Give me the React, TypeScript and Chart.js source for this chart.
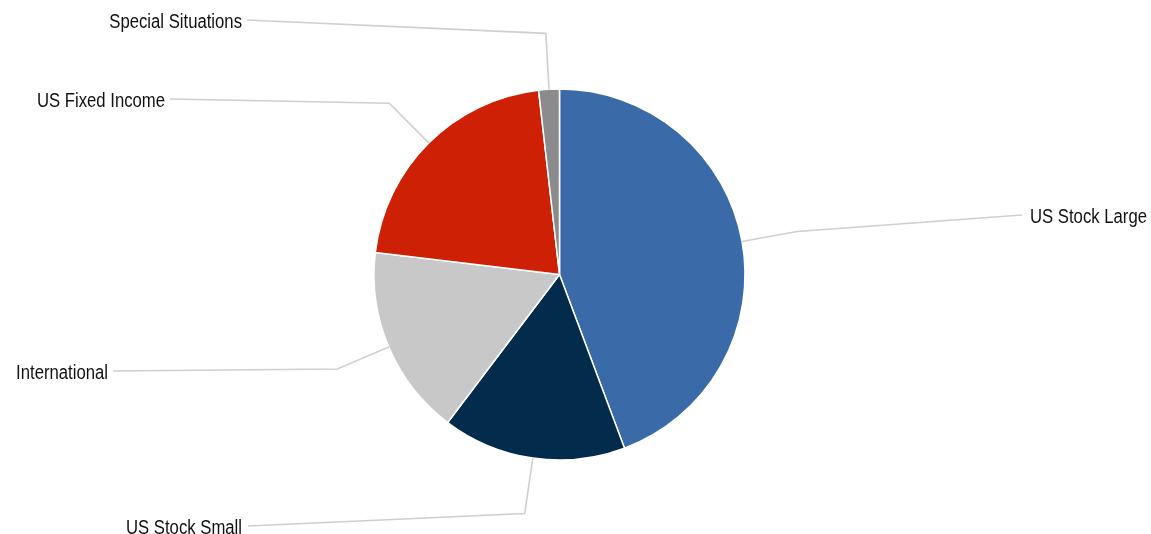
import React, { useEffect, useRef } from "react";
import { Chart, registerables } from "chart.js";

Chart.register(...registerables);

// ---- data ----
const categories = [
  "US Stock Large",
  "US Stock Small",
  "International",
  "US Fixed Income",
  "Special Situations",
];
const values = [44.3, 16.0, 16.6, 21.3, 1.8];
const colors = ["#3A6AA7", "#032B4C", "#C8C8C8", "#CD2004", "#8B8A8C"];

// ---- label layout (text anchor and leader end), same order as categories ----
const labelSide = ["right", "left", "left", "left", "left"];
const labelX = [1030, 242, 108, 165, 242];
const labelY = [215, 526, 371, 99, 20];
const lineEndX = [1022, 248, 113, 170, 247];

const FONT = "20px 'Liberation Sans', Arial, sans-serif";
const X_SCALE = 0.835;

const leaderPlugin = {
  id: "leaderLabels",
  afterDatasetsDraw(chart: any) {
    const ctx = chart.ctx;
    const meta = chart.getDatasetMeta(0);
    ctx.save();
    meta.data.forEach((arc: any, i: number) => {
      const { x, y, startAngle, endAngle, outerRadius } = arc.getProps(
        ["x", "y", "startAngle", "endAngle", "outerRadius"],
        true
      );
      const mid = (startAngle + endAngle) / 2;
      const p0x = x + Math.cos(mid) * outerRadius;
      const p0y = y + Math.sin(mid) * outerRadius;
      const p1x = x + Math.cos(mid) * (outerRadius + 56);
      const p1y = y + Math.sin(mid) * (outerRadius + 56);
      ctx.strokeStyle = "#CFCFCF";
      ctx.lineWidth = 1.6;
      ctx.beginPath();
      ctx.moveTo(p0x, p0y);
      ctx.lineTo(p1x, p1y);
      ctx.lineTo(lineEndX[i], labelY[i]);
      ctx.stroke();

      ctx.save();
      ctx.fillStyle = "#111111";
      ctx.font = FONT;
      ctx.textBaseline = "alphabetic";
      ctx.textAlign = labelSide[i] === "right" ? "left" : "right";
      ctx.translate(labelX[i], labelY[i] + 7.5);
      ctx.scale(X_SCALE, 1);
      ctx.fillText(categories[i], 0, 0);
      ctx.restore();
    });
    ctx.restore();
  },
};

export default function App() {
  const ref = useRef<HTMLCanvasElement>(null);
  useEffect(() => {
    document.body.style.margin = "0";
    const chart = new Chart(ref.current!, {
      type: "pie",
      data: {
        labels: categories,
        datasets: [
          {
            data: values,
            backgroundColor: colors,
            borderColor: "#FFFFFF",
            borderWidth: 1.5,
          },
        ],
      },
      options: {
        animation: false,
        responsive: false,
        radius: 185.5,
        layout: { padding: { left: 300, right: 332, top: 65, bottom: 50 } },
        plugins: {
          legend: { display: false },
          tooltip: { enabled: false },
        },
      } as any,
      plugins: [leaderPlugin],
    });
    return () => chart.destroy();
  }, []);
  return (
    <div style={{ width: 1151, height: 534, background: "#fff" }}>
      <canvas ref={ref} width={1151} height={534} style={{ display: "block" }} />
    </div>
  );
}
